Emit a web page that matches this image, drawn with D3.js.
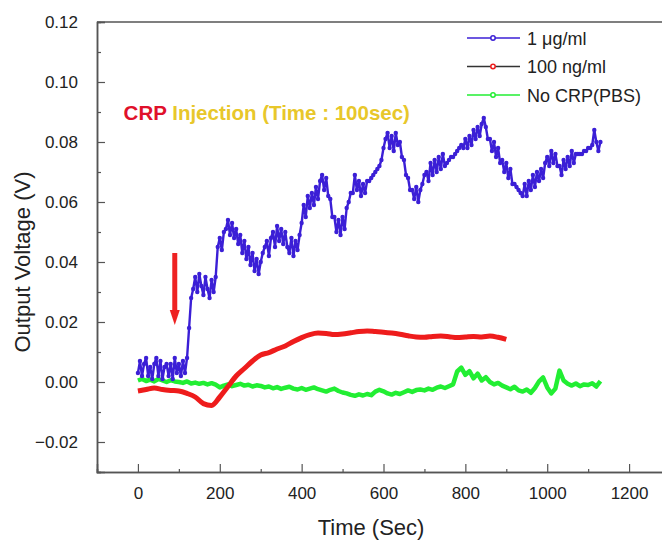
<!DOCTYPE html>
<html>
<head>
<meta charset="utf-8">
<script src="https://cdn.jsdelivr.net/npm/d3@7"></script>
<style>
  body { margin: 0; background: #fff; }
  svg { display: block; font-family: "Liberation Sans", Arial, Helvetica, sans-serif; }
</style>
</head>
<body>
<svg width="662" height="544"></svg>
<script>
// 1 ug/ml, sampled every 5 sec from 0 to 1130 (values in mV)
var blueStep = 5;
var blueMv = [
  3, 7, 2, 6, 8, 2, 5, 1, 6, 8, 2, 7, 1, 5, 6, 2, 6, 1, 8, 3,
  6, 2, 7, 3, 8, 18, 28, 31, 35, 30, 36, 32, 29, 35, 31, 28, 34, 30, 35, 45,
  48, 44, 50, 51, 54, 49, 53, 48, 51, 46, 49, 43, 47, 41, 45, 39, 43, 37, 41, 36,
  40, 43, 45, 47, 42, 48, 50, 45, 52, 47, 51, 46, 50, 45, 43, 48, 42, 47, 44, 49,
  53, 59, 55, 62, 58, 63, 59, 65, 61, 67, 69, 64, 68, 62, 61, 55, 55, 50, 54, 49,
  55, 51, 58, 60, 63, 63, 69, 64, 67, 62, 66, 63, 67, 67, 68, 69, 70, 71, 72, 74,
  78, 81, 83, 78, 82, 77, 83, 79, 80, 75, 74, 69, 68, 64, 64, 61, 65, 60, 64, 66,
  69, 70, 67, 73, 69, 74, 70, 75, 71, 76, 72, 73, 74, 75, 75, 76, 77, 78, 79, 78,
  81, 78, 82, 79, 84, 81, 85, 82, 86, 88, 85, 81, 81, 77, 80, 75, 78, 73, 74, 70,
  73, 68, 71, 66, 66, 65, 64, 63, 62, 66, 62, 67, 64, 69, 65, 70, 67, 71, 68, 73,
  75, 72, 77, 73, 76, 72, 72, 69, 74, 71, 75, 72, 77, 73, 76, 76, 76, 76, 77, 77,
  78, 78, 79, 84, 80, 77, 80
];

// 100 ng/ml, every 20 sec from 0 to 900 (mV)
var redStep = 20;
var redMv = [
  -3, -2.5, -2, -2.5, -2.8, -3, -3.8, -5, -7.2, -7.8,
  -5, -1.5, 2, 4.5, 7, 9, 9.8, 11, 12, 13.5,
  14.8, 15.8, 16.3, 16.2, 15.8, 16, 16.4, 16.8, 17, 16.8,
  16.6, 16.3, 15.9, 15.4, 15, 14.9, 15.2, 15.3, 15.1, 14.8,
  15, 15.2, 15, 15.3, 14.9, 14.2
];

// No CRP (PBS), every 10 sec from 0 to 1130 (mV)
var greenStep = 10;
var greenMv = [
  0.5, 1, 0.3, 0.8, 0.2, 1, 0.5, 0, 0.6, 0.2,
  0, -0.3, 0.2, -0.5, -0.2, -0.6, -0.3, -0.8, -0.4, -0.9,
  -1.8, -1.2, -0.8, -1.4, -1, -0.6, -1.2, -0.9, -1.5, -1.1,
  -1.3, -1.8, -1.5, -2.1, -1.7, -2.3, -1.9, -1.6, -2.2, -2.5,
  -2, -2.6, -2.2, -1.8, -2.4, -2.8, -3.2, -2.6, -2.2, -3,
  -3.5, -3.8, -4.3, -4.6, -4.1, -4.5, -4, -4.4, -3.2, -2.6,
  -3.1, -3.8, -4.2, -3.6, -4, -3.4, -2.8, -3.3, -2.7, -2.5,
  -2.8, -2.2, -2.6, -1.9, -1.5, -2, -1.4, -0.8, 3.5, 4.8,
  2.4, 3.6, 1.2, 2.8, 0.5, 1.6, 0, -0.8, -0.3, -1.2,
  -1.8, -2.4, -1.6, -2.8, -3.2, -2.5, -3.6, -2, 0.2, 1.5,
  -1.8, -3.8, -2.2, 3.8, 0.5, -0.6, -1.2, -0.5, -1.4, -0.8,
  -1, -0.4, -1.5, 0.3
];

var seriesNames = ["1 \u03bcg/ml", "100 ng/ml", "No CRP(PBS)"];
var xTicks = [0, 200, 400, 600, 800, 1000, 1200];
var yTicks = [-0.02, 0.00, 0.02, 0.04, 0.06, 0.08, 0.10, 0.12];
var injectionTime = 100;

function toPoints(values, step) {
    return values.map(function(v, i) {
        return { t: i * step, v: v / 1000 };
    });
}

var blue = toPoints(blueMv, blueStep),
    red = toPoints(redMv, redStep),
    green = toPoints(greenMv, greenStep);

var svg = d3.select("svg"),
    plotLeft = 97, plotTop = 22, plotBottom = 472, plotRight = 670;

var x = d3.scaleLinear().domain([-100, 1300]).range([plotLeft, plotRight]);
var y = d3.scaleLinear().domain([-0.03, 0.12]).range([plotBottom, plotTop]);

var axisColor = "#555";

// frame: top border
svg.append("line")
    .attr("x1", plotLeft).attr("x2", 662)
    .attr("y1", plotTop).attr("y2", plotTop)
    .attr("stroke", axisColor).attr("stroke-width", 1.5);

// x axis
var xMinor = d3.range(-100, 1301, 100).filter(function(d) { return d % 200 !== 0; });
var gx = svg.append("g").attr("transform", "translate(0," + plotBottom + ")");
gx.append("g").call(d3.axisBottom(x).tickValues(xMinor).tickSize(-3).tickFormat(""));
gx.append("g").call(d3.axisBottom(x).tickValues(xTicks).tickSize(-8).tickFormat(d3.format("d")));

// y axis
var yMinor = [-0.03, -0.01, 0.01, 0.03, 0.05, 0.07, 0.09, 0.11];
var gy = svg.append("g").attr("transform", "translate(" + plotLeft + ",0)");
gy.append("g").call(d3.axisLeft(y).tickValues(yMinor).tickSize(-4).tickFormat(""));
gy.append("g").call(d3.axisLeft(y).tickValues(yTicks).tickSize(-8).tickFormat(d3.format(".2f")));

svg.selectAll(".domain").attr("stroke", axisColor).attr("stroke-width", 1.5);
svg.selectAll(".tick line").attr("stroke", axisColor).attr("stroke-width", 1.2);
gx.selectAll(".tick text")
    .attr("font-size", 17).attr("fill", "#222")
    .attr("font-family", "Liberation Sans, Arial, sans-serif")
    .attr("y", 15);
gy.selectAll(".tick text")
    .attr("font-size", 17).attr("fill", "#222")
    .attr("font-family", "Liberation Sans, Arial, sans-serif")
    .attr("x", -19);

// axis titles
svg.append("text")
    .attr("x", 371).attr("y", 535)
    .attr("text-anchor", "middle")
    .attr("font-size", 22).attr("fill", "#222")
    .text("Time (Sec)");

svg.append("text")
    .attr("transform", "translate(30,262) rotate(-90)")
    .attr("text-anchor", "middle")
    .attr("font-size", 22).attr("fill", "#222")
    .text("Output Voltage (V)");

var line = d3.line()
    .x(function(d) { return x(d.t); })
    .y(function(d) { return y(d.v); });

// green (PBS)
svg.append("path")
    .datum(green)
    .attr("fill", "none")
    .attr("stroke", "#22ee33")
    .attr("stroke-width", 4.5)
    .attr("stroke-linejoin", "round")
    .attr("d", line.curve(d3.curveLinear));

// red (100 ng/ml)
svg.append("path")
    .datum(red)
    .attr("fill", "none")
    .attr("stroke", "#ee1c1c")
    .attr("stroke-width", 5)
    .attr("stroke-linejoin", "round")
    .attr("d", line.curve(d3.curveMonotoneX));

// blue (1 ug/ml)
svg.append("path")
    .datum(blue)
    .attr("fill", "none")
    .attr("stroke", "#3b1fd6")
    .attr("stroke-width", 2.4)
    .attr("stroke-linejoin", "round")
    .attr("d", line.curve(d3.curveLinear));

svg.append("g")
    .selectAll("circle")
    .data(blue)
    .join("circle")
    .attr("cx", function(d) { return x(d.t); })
    .attr("cy", function(d) { return y(d.v); })
    .attr("r", 2.2)
    .attr("fill", "#3b1fd6");

// injection arrow
var ax = x(injectionTime - 10);
svg.append("line")
    .attr("x1", ax).attr("x2", ax)
    .attr("y1", y(0.043)).attr("y2", y(0.024))
    .attr("stroke", "#ee2222").attr("stroke-width", 5);
svg.append("path")
    .attr("d", "M" + (ax - 5) + "," + y(0.024) + "L" + (ax + 5) + "," + y(0.024) +
               "L" + ax + "," + y(0.019) + "Z")
    .attr("fill", "#ee2222");

var note = svg.append("text")
    .attr("x", x(-35)).attr("y", y(0.0875))
    .attr("font-size", 20.5).attr("font-weight", "bold");
note.append("tspan").attr("fill", "#e0102a").text("CRP ");
note.append("tspan").attr("fill", "#e8c72a").text("Injection (Time : 100sec)");

// legend
var legendColors = [
    { line: "#3b1fd6", dot: "#3b1fd6" },
    { line: "#333333", dot: "#ee1c1c" },
    { line: "#22ee33", dot: "#22ee33" }
];
var legend = svg.append("g");
seriesNames.forEach(function(name, i) {
    var ly = 38 + i * 28.5;
    legend.append("line")
        .attr("x1", 467).attr("x2", 520)
        .attr("y1", ly).attr("y2", ly)
        .attr("stroke", legendColors[i].line).attr("stroke-width", 1.5);
    legend.append("circle")
        .attr("cx", 493).attr("cy", ly).attr("r", 2.2)
        .attr("fill", "#fff")
        .attr("stroke", legendColors[i].dot).attr("stroke-width", 1.5);
    legend.append("text")
        .attr("x", 527).attr("y", ly + 6.5)
        .attr("font-size", 18).attr("fill", "#222")
        .text(name);
});
</script>
</body>
</html>
